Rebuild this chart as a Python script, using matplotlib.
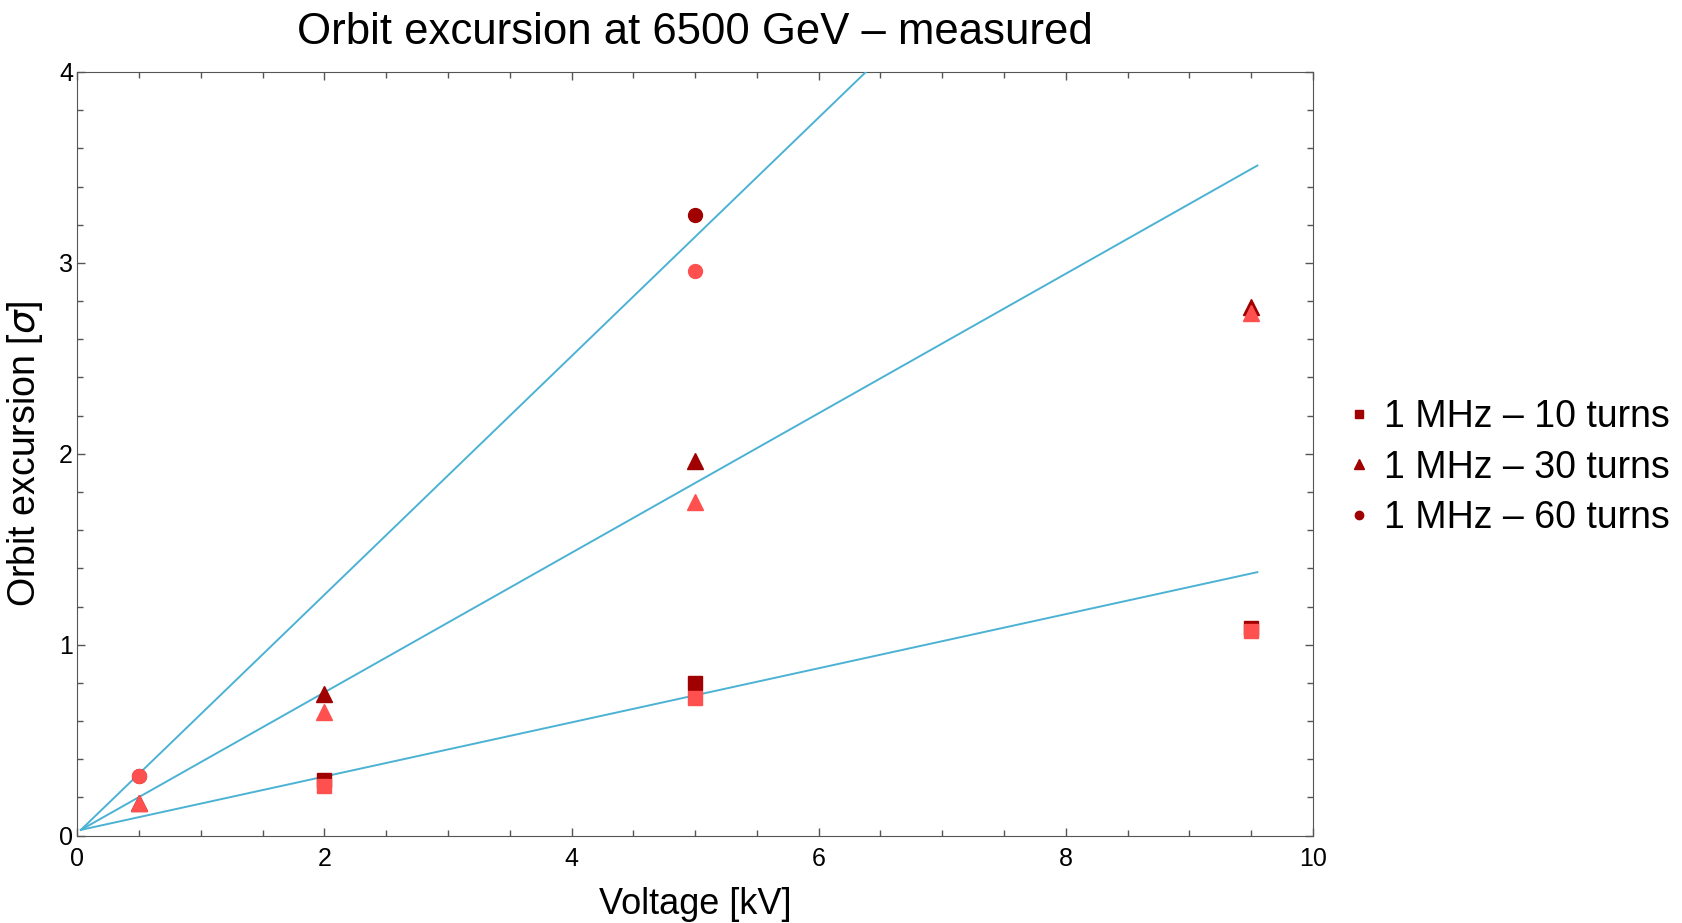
import matplotlib
matplotlib.use("Agg")
import matplotlib.pyplot as plt
from matplotlib.ticker import MultipleLocator

plt.rcParams['font.family'] = ['Liberation Sans', 'DejaVu Sans']

# measured points, light = first set, dark = second set
volt_10 = [2, 5, 9.5]
light_10 = [0.26, 0.72, 1.07]
dark_10 = [0.29, 0.80, 1.09]

volt_30 = [0.5, 2, 5, 9.5]
light_30 = [0.17, 0.65, 1.75, 2.74]
dark_30 = [0.17, 0.74, 1.96, 2.77]

volt_60 = [0.5, 5]
light_60 = [0.31, 2.96]
dark_60 = [0.31, 3.25]

# linear fits
fit_x = [0.03, 9.55]
fit_60 = [0.03, 5.98]
fit_30 = [0.03, 3.51]
fit_10 = [0.03, 1.38]

dark = '#a00000'
light = '#ff5050'
blue = '#4cb2d4'

fig = plt.figure(figsize=(16.82, 9.23), dpi=100)
ax = fig.add_axes([0.0459, 0.0947, 0.7347, 0.8273])

for fy in [fit_60, fit_30, fit_10]:
    ax.plot(fit_x, fy, color=blue, lw=1.4, zorder=3)

ax.plot(volt_10, dark_10, 's', color=dark, ms=10, ls='none', zorder=4,
        label='1 MHz – 10 turns')
ax.plot(volt_30, dark_30, '^', color=dark, ms=11, ls='none', zorder=4,
        label='1 MHz – 30 turns')
ax.plot(volt_60, dark_60, 'o', color=dark, ms=10, ls='none', zorder=4,
        label='1 MHz – 60 turns')
ax.plot(volt_10, light_10, 's', color=light, ms=10, ls='none', zorder=5)
ax.plot(volt_30, light_30, '^', color=light, ms=11, ls='none', zorder=5)
ax.plot(volt_60, light_60, 'o', color=light, ms=10, ls='none', zorder=5)

ax.set_xlim(0, 10)
ax.set_ylim(0, 4)
ax.xaxis.set_major_locator(MultipleLocator(2))
ax.xaxis.set_minor_locator(MultipleLocator(0.5))
ax.yaxis.set_major_locator(MultipleLocator(1))
ax.yaxis.set_minor_locator(MultipleLocator(0.2))
ax.tick_params(which='both', direction='in', top=True, right=True,
               color='#555555', labelsize=18)
ax.tick_params(which='major', length=6, width=1)
ax.tick_params(which='minor', length=4, width=1)
ax.tick_params(axis='x', pad=8)
ax.tick_params(axis='y', pad=3)
for s in ax.spines.values():
    s.set_color('#555555')

ax.set_title('Orbit excursion at 6500 GeV – measured', fontsize=31.5, pad=20)
ax.set_xlabel('Voltage [kV]', fontsize=26, labelpad=12)
ax.set_ylabel(r'Orbit excursion [$\sigma$]', fontsize=27, labelpad=10)

ax.legend(loc='center left', bbox_to_anchor=(0.995, 0.482), frameon=False,
          fontsize=27, markerscale=0.6, handletextpad=0.15, handlelength=1.0,
          labelspacing=0.38)

fig.savefig('out.png', dpi=100)
